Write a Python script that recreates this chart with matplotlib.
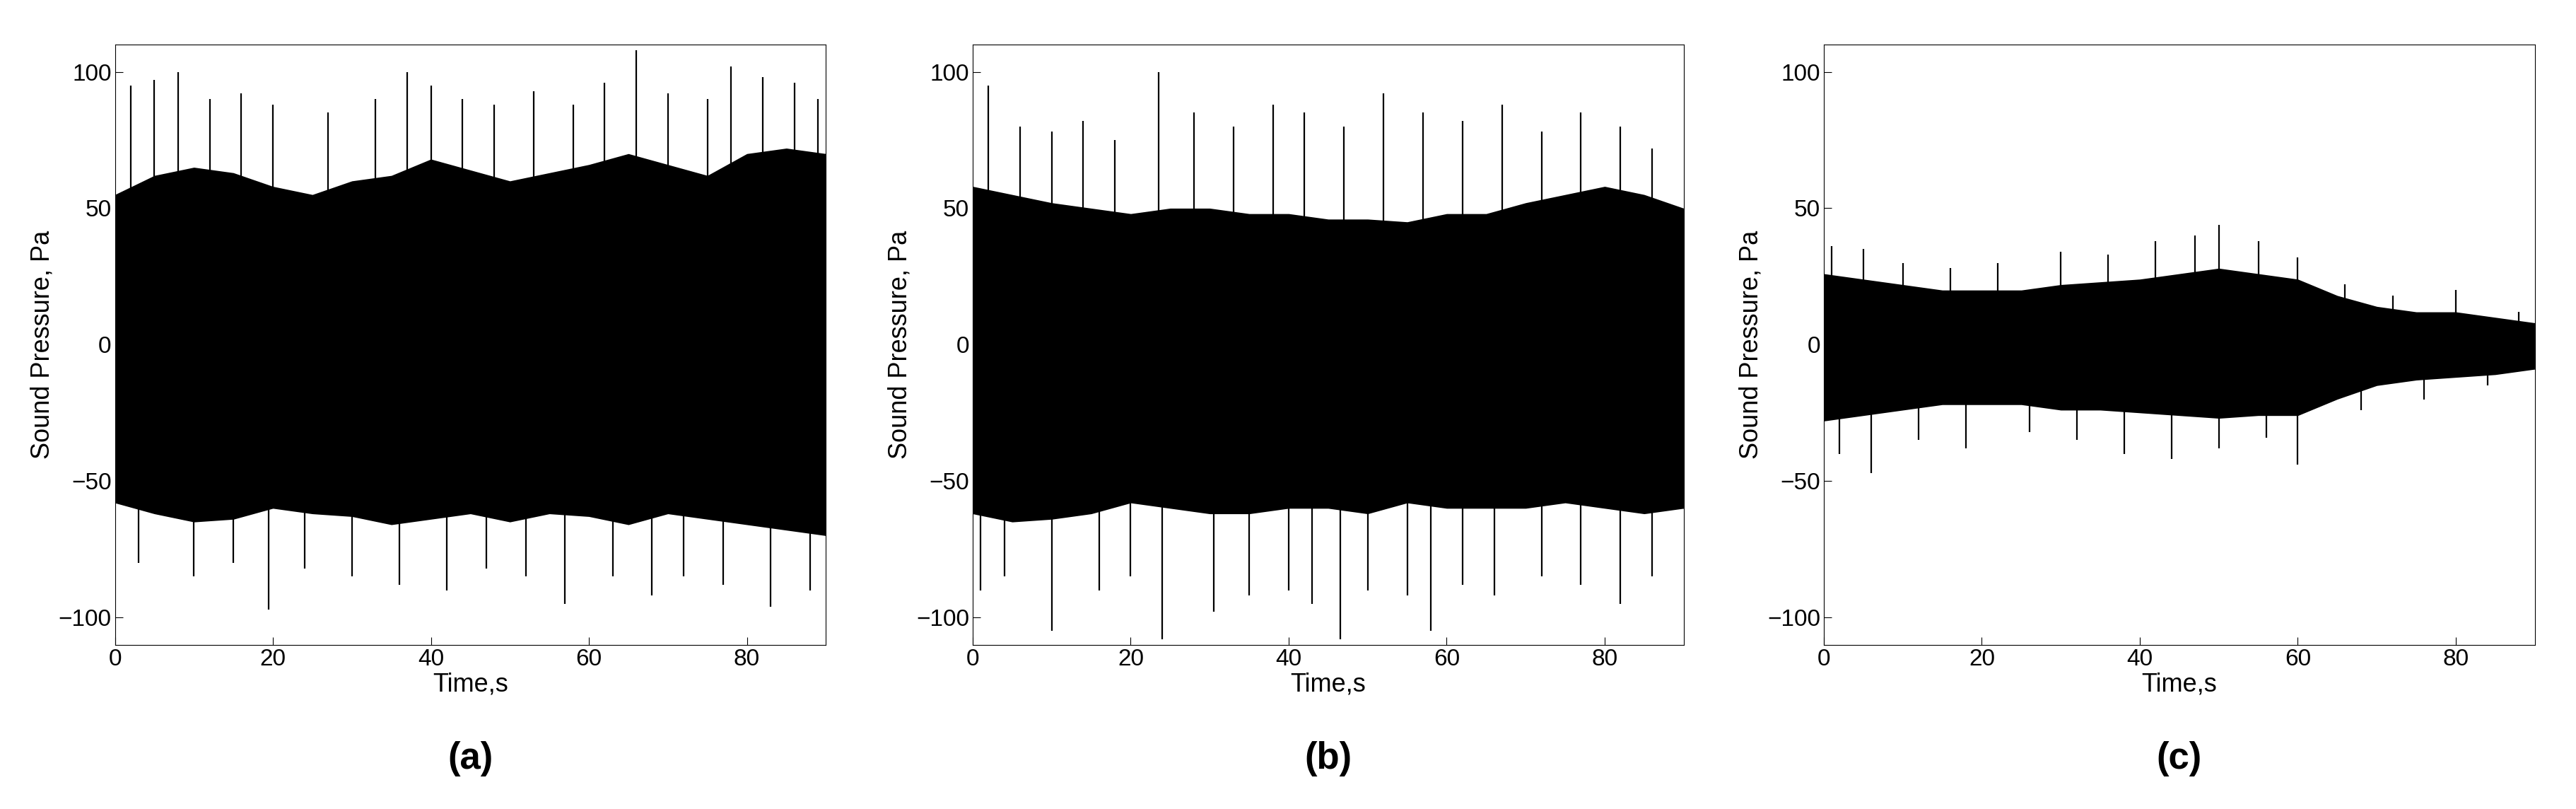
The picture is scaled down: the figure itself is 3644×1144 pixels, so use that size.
import numpy as np
import matplotlib.pyplot as plt

plt.rcParams['font.family'] = ['Liberation Sans', 'DejaVu Sans']

# envelope of the dense waveform, read every 5 s
t_core = [0, 5, 10, 15, 20, 25, 30, 35, 40, 45, 50, 55, 60, 65, 70, 75, 80, 85, 90]
a_top = [55, 62, 65, 63, 58, 55, 60, 62, 68, 64, 60, 63, 66, 70, 66, 62, 70, 72, 70]
a_bot = [-58, -62, -65, -64, -60, -62, -63, -66, -64, -62, -65, -62, -63, -66, -62, -64, -66, -68, -70]
b_top = [58, 55, 52, 50, 48, 50, 50, 48, 48, 46, 46, 45, 48, 48, 52, 55, 58, 55, 50]
b_bot = [-62, -65, -64, -62, -58, -60, -62, -62, -60, -60, -62, -58, -60, -60, -60, -58, -60, -62, -60]
c_top = [26, 24, 22, 20, 20, 20, 22, 23, 24, 26, 28, 26, 24, 18, 14, 12, 12, 10, 8]
c_bot = [-28, -26, -24, -22, -22, -22, -24, -24, -25, -26, -27, -26, -26, -20, -15, -13, -12, -11, -9]

# isolated spikes (time, peak value)
a_spk_t = [2, 5, 8, 12, 16, 20, 27, 33, 37, 40, 44, 48, 53, 58, 62, 66, 70, 75, 78, 82, 86, 89,
           3, 10, 15, 19.5, 24, 30, 36, 42, 47, 52, 57, 63, 68, 72, 77, 83, 88]
a_spk_v = [95, 97, 100, 90, 92, 88, 85, 90, 100, 95, 90, 88, 93, 88, 96, 108, 92, 90, 102, 98, 96, 90,
           -80, -85, -80, -97, -82, -85, -88, -90, -82, -85, -95, -85, -92, -85, -88, -96, -90]
b_spk_t = [2, 6, 10, 14, 18, 23.5, 28, 33, 38, 42, 47, 52, 57, 62, 67, 72, 77, 82, 86,
           1, 4, 10, 16, 20, 24, 30.5, 35, 40, 43, 46.5, 50, 55, 58, 62, 66, 72, 77, 82, 86]
b_spk_v = [95, 80, 78, 82, 75, 100, 85, 80, 88, 85, 80, 92, 85, 82, 88, 78, 85, 80, 72,
           -90, -85, -105, -90, -85, -108, -98, -92, -90, -95, -108, -90, -92, -105, -88, -92, -85, -88, -95, -85]
c_spk_t = [1, 5, 10, 16, 22, 30, 36, 42, 47, 50, 55, 60, 66, 72, 80, 88,
           2, 6, 12, 18, 26, 32, 38, 44, 50, 56, 60, 68, 76, 84]
c_spk_v = [36, 35, 30, 28, 30, 34, 33, 38, 40, 44, 38, 32, 22, 18, 20, 12,
           -40, -47, -35, -38, -32, -35, -40, -42, -38, -34, -44, -24, -20, -15]

panels = [
    (t_core, a_top, a_bot, a_spk_t, a_spk_v, '(a)', 0.0446),
    (t_core, b_top, b_bot, b_spk_t, b_spk_v, '(b)', 0.3776),
    (t_core, c_top, c_bot, c_spk_t, c_spk_v, '(c)', 0.708),
]

fig = plt.figure(figsize=(36.44, 11.44), dpi=100)
for t, top, bot, st, sv, lab, left in panels:
    ax = fig.add_axes([left, 0.203, 0.276, 0.742])
    ax.fill_between(t, bot, top, color='black', linewidth=0)
    ax.vlines(st, 0, sv, color='black', linewidth=1.6)
    ax.set_xlim(0, 90)
    ax.set_ylim(-110, 110)
    ax.set_xticks([0, 20, 40, 60, 80])
    ax.set_yticks([-100, -50, 0, 50, 100])
    ax.tick_params(labelsize=24, direction='in', length=8)
    ax.set_xlabel('Time,s', fontsize=26, labelpad=2)
    ax.set_ylabel('Sound Pressure, Pa', fontsize=26)
    fig.text(left + 0.138, 0.05, lab, fontsize=38, fontweight='bold', ha='center')

fig.savefig('out.png', dpi=100)
